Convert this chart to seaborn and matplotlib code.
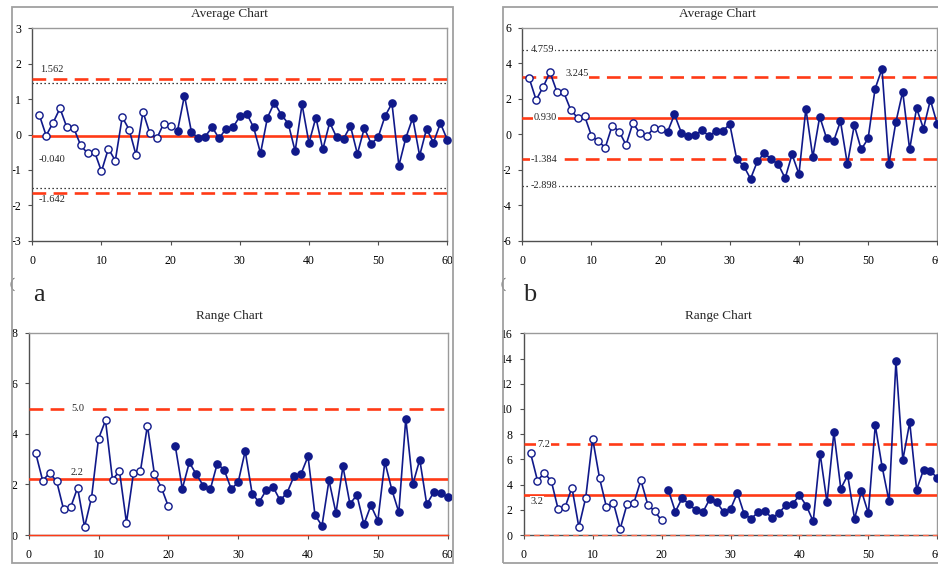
import numpy as np
import pandas as pd
import seaborn as sns
import matplotlib.pyplot as plt
from matplotlib.patches import Rectangle

# ---------------- data ----------------
samples_open = list(range(1, 21))
samples_filled = list(range(21, 61))

avg_a_open = [0.56, -0.03, 0.33, 0.74, 0.20, 0.18, -0.31, -0.53, -0.49, -1.04,
              -0.40, -0.74, 0.49, 0.14, -0.58, 0.64, 0.03, -0.11, 0.31, 0.25]
avg_a_filled = [0.11, 1.10, 0.08, -0.11, -0.06, 0.21, -0.11, 0.16, 0.20, 0.51,
                0.59, 0.20, -0.53, 0.48, 0.90, 0.56, 0.31, -0.47, 0.85, -0.24,
                0.48, -0.42, 0.34, -0.08, -0.12, 0.24, -0.55, 0.18, -0.26, -0.08,
                0.52, 0.88, -0.88, -0.10, 0.47, -0.60, 0.16, -0.23, 0.32, -0.15]

avg_b_open = [3.15, 1.93, 2.65, 3.49, 2.40, 2.35, 1.37, 0.92, 1.03, -0.09,
              -0.41, -0.75, 0.49, 0.15, -0.60, 0.64, 0.04, -0.11, 0.34, 0.28]
avg_b_filled = [0.13, 1.11, 0.08, -0.11, -0.04, 0.21, -0.10, 0.17, 0.19, 0.56,
                -1.41, -1.78, -2.51, -1.52, -1.07, -1.41, -1.69, -2.48, -1.14, -2.25,
                1.44, -1.29, 0.99, -0.24, -0.41, 0.73, -1.69, 0.51, -0.86, -0.24,
                2.55, 3.68, -1.69, 0.66, 2.40, -0.86, 1.46, 0.32, 1.93, 0.56]

rng_a_open = [3.24, 2.15, 2.45, 2.13, 1.01, 1.09, 1.87, 0.32, 1.48, 3.81,
              4.53, 2.19, 2.52, 0.49, 2.44, 2.53, 4.33, 2.41, 1.87, 1.13]
rng_a_filled = [3.50, 1.83, 2.87, 2.40, 1.95, 1.80, 2.82, 2.57, 1.82, 2.09,
                3.32, 1.63, 1.30, 1.77, 1.90, 1.37, 1.67, 2.33, 2.42, 3.11,
                0.78, 0.37, 2.16, 0.87, 2.71, 1.23, 1.58, 0.42, 1.17, 0.57,
                2.89, 1.79, 0.90, 4.60, 2.00, 2.98, 1.21, 1.69, 1.67, 1.50]

rng_b_open = [6.48, 4.31, 4.92, 4.29, 2.04, 2.20, 3.76, 0.63, 2.96, 7.65,
              4.52, 2.22, 2.57, 0.50, 2.46, 2.57, 4.34, 2.41, 1.88, 1.16]
rng_b_filled = [3.54, 1.85, 2.94, 2.43, 1.96, 1.82, 2.86, 2.59, 1.83, 2.06,
                3.33, 1.64, 1.30, 1.80, 1.90, 1.35, 1.72, 2.35, 2.46, 3.15,
                2.33, 1.08, 6.46, 2.59, 8.15, 3.68, 4.74, 1.27, 3.49, 1.72,
                8.70, 5.40, 2.67, 13.78, 5.95, 8.94, 3.60, 5.16, 5.08, 4.52]

# control limits
avg_a_ucl, avg_a_cl, avg_a_lcl = 1.562, -0.040, -1.642
avg_a_dotted = [1.45, -1.52]
avg_b_dotted_hi, avg_b_ucl, avg_b_cl, avg_b_lcl, avg_b_dotted_lo = 4.759, 3.245, 0.930, -1.384, -2.898
rng_a_ucl, rng_a_cl = 5.0, 2.2
rng_b_ucl, rng_b_cl = 7.2, 3.2

x_ticks = [0, 10, 20, 30, 40, 50, 60]

# ---------------- style ----------------
sns.set_style("white")
plt.rcParams['font.family'] = ['Liberation Serif', 'DejaVu Serif']
plt.rcParams['axes.unicode_minus'] = False

W, H = 938, 566
fig = plt.figure(figsize=(W / 100, H / 100), dpi=100)

NAVY = '#10198a'
RED = '#ff3a16'
DASH = (0, (5.2, 2.8))
DOT = (0, (1.0, 2.2))


def px_axes(x0, x1, ytop, ybot):
    return fig.add_axes([x0 / W, 1 - ybot / H, (x1 - x0) / W, (ybot - ytop) / H])


def draw_series(ax, open_vals, filled_vals):
    df_o = pd.DataFrame({'sample': samples_open, 'value': open_vals})
    df_f = pd.DataFrame({'sample': samples_filled, 'value': filled_vals})
    sns.lineplot(data=df_o, x='sample', y='value', ax=ax, color=NAVY,
                 linewidth=1.2, marker='o', markersize=5.2,
                 markerfacecolor='white', markeredgecolor=NAVY,
                 markeredgewidth=1.0, zorder=5, clip_on=False)
    sns.lineplot(data=df_f, x='sample', y='value', ax=ax, color=NAVY,
                 linewidth=1.2, marker='o', markersize=5.2,
                 markerfacecolor=NAVY, markeredgecolor=NAVY,
                 markeredgewidth=1.0, zorder=5, clip_on=False)


def style_axes(ax, ylim, yticks):
    ax.set_xlim(0, 60)
    ax.set_ylim(*ylim)
    ax.set_xticks(x_ticks)
    ax.set_yticks(yticks)
    ax.set_xlabel('')
    ax.set_ylabel('')
    ax.grid(False)
    for s in ['top', 'right']:
        ax.spines[s].set_color('#9a9a9a')
        ax.spines[s].set_linewidth(1.0)
    for s in ['left', 'bottom']:
        ax.spines[s].set_color('#505050')
        ax.spines[s].set_linewidth(1.0)
    ax.tick_params(axis='both', which='both', direction='out', length=3,
                   width=0.8, color='#505050', labelsize=8.5,
                   bottom=True, left=True, labelcolor='black')
    ax.tick_params(axis='x', pad=7)
    ax.tick_params(axis='y', pad=5)


def label(ax, x, y, s, box=True):
    kw = dict(fontsize=7.5, ha='center', va='center', zorder=4)
    if box:
        kw['bbox'] = dict(facecolor='white', edgecolor='none', pad=0.6)
    ax.text(x, y, s, **kw)


# ---------------- panel a: average ----------------
ax1 = px_axes(32.3, 447.3, 28.3, 240.7)
for y in avg_a_dotted:
    ax1.axhline(y, color='black', lw=0.9, ls=DOT, zorder=2)
ax1.axhline(avg_a_ucl, color=RED, lw=1.9, ls=DASH, zorder=3)
ax1.axhline(avg_a_lcl, color=RED, lw=1.9, ls=DASH, zorder=3)
ax1.axhline(avg_a_cl, color=RED, lw=1.9, zorder=3)
draw_series(ax1, avg_a_open, avg_a_filled)
style_axes(ax1, (-3, 3), [-3, -2, -1, 0, 1, 2, 3])
label(ax1, 2.8, 1.83, f"{avg_a_ucl:.3f}", box=False)
label(ax1, 2.8, -0.72, f"{avg_a_cl:.3f}", box=False)
label(ax1, 2.9, -1.83, f"{avg_a_lcl:.3f}", box=False)

# ---------------- panel b: average ----------------
ax2 = px_axes(522.3, 937.3, 27.7, 240.7)
ax2.axhline(avg_b_dotted_hi, color='black', lw=0.9, ls=DOT, zorder=2)
ax2.axhline(avg_b_dotted_lo, color='black', lw=0.9, ls=DOT, zorder=2)
ax2.axhline(avg_b_ucl, color=RED, lw=1.9, ls=DASH, zorder=3)
ax2.axhline(avg_b_lcl, color=RED, lw=1.9, ls=DASH, zorder=3)
ax2.axhline(avg_b_cl, color=RED, lw=1.9, zorder=3)
draw_series(ax2, avg_b_open, avg_b_filled)
style_axes(ax2, (-6, 6), [-6, -4, -2, 0, 2, 4, 6])
label(ax2, 2.85, avg_b_dotted_hi, f"{avg_b_dotted_hi:.3f}")
label(ax2, 7.9, 3.42, f"{avg_b_ucl:.3f}")
label(ax2, 3.3, 0.95, f"{avg_b_cl:.3f}")
label(ax2, 3.2, -1.43, f"{avg_b_lcl:.3f}")
label(ax2, 3.2, -2.91, f"{avg_b_dotted_lo:.3f}")

# ---------------- panel c: range ----------------
ax3 = px_axes(28.7, 447.7, 332.7, 535)
ax3.axhline(rng_a_ucl, color=RED, lw=1.9, ls=DASH, zorder=3)
ax3.axhline(rng_a_cl, color=RED, lw=1.9, zorder=3)
ax3.axhline(0, color=RED, lw=1.0, zorder=6, clip_on=False)
draw_series(ax3, rng_a_open, rng_a_filled)
style_axes(ax3, (0, 8), [0, 2, 4, 6, 8])
label(ax3, 7.1, rng_a_ucl, f"{rng_a_ucl:.1f}")
label(ax3, 6.9, 2.47, f"{rng_a_cl:.1f}")

# ---------------- panel d: range ----------------
ax4 = px_axes(523.7, 937.3, 333.3, 535)
ax4.axhline(rng_b_ucl, color=RED, lw=1.9, ls=DASH, zorder=3)
ax4.axhline(rng_b_cl, color=RED, lw=1.9, zorder=3)
ax4.axhline(0, color='#ff6a4a', lw=1.0, ls=(0, (4, 3)), zorder=6, clip_on=False)
draw_series(ax4, rng_b_open, rng_b_filled)
style_axes(ax4, (0, 16), [0, 2, 4, 6, 8, 10, 12, 14, 16])
label(ax4, 2.85, rng_b_ucl, f"{rng_b_ucl:.1f}")
label(ax4, 1.9, 2.64, f"{rng_b_cl:.1f}")

# ---------------- titles & letters ----------------
fig.text(229 / W, 1 - 14 / H, 'Average Chart', ha='center', va='center', fontsize=9.5)
fig.text(717.5 / W, 1 - 14 / H, 'Average Chart', ha='center', va='center', fontsize=9.5)
fig.text(229 / W, 1 - 316 / H, 'Range Chart', ha='center', va='center', fontsize=9.5)
fig.text(718 / W, 1 - 316 / H, 'Range Chart', ha='center', va='center', fontsize=9.5)

fig.text(39 / W, 1 - 301 / H, 'a', ha='center', va='baseline', fontsize=19)
fig.text(530 / W, 1 - 301 / H, 'b', ha='center', va='baseline', fontsize=19)
fig.text(9 / W, 1 - 284 / H, '(', ha='left', va='center', fontsize=11, color='#333333')
fig.text(500 / W, 1 - 284 / H, '(', ha='left', va='center', fontsize=11, color='#333333')

# ---------------- outer frames ----------------
fig.add_artist(Rectangle((12 / W, 1 - 563 / H), (453 - 12) / W, (563 - 7) / H,
                         transform=fig.transFigure, fill=False,
                         edgecolor='#a0a0a0', lw=1.3, zorder=10))
fig.add_artist(Rectangle((503 / W, 1 - 563 / H), (960 - 503) / W, (563 - 7) / H,
                         transform=fig.transFigure, fill=False,
                         edgecolor='#a0a0a0', lw=1.3, zorder=10, clip_on=False))

fig.savefig('out.png', dpi=100)
